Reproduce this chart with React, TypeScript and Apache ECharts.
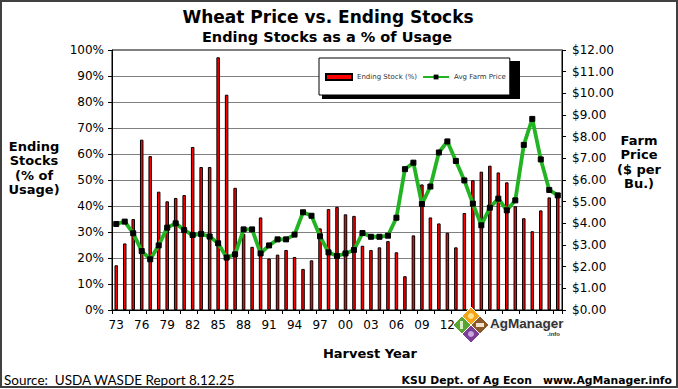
import React, { useEffect, useRef } from "react";
import * as echarts from "echarts";

const years: string[] = [
  "73","74","75","76","77","78","79","80","81","82","83","84","85","86","87","88","89","90","91","92","93","94","95","96","97","98","99",
  "00","01","02","03","04","05","06","07","08","09","10","11","12","13","14","15","16","17","18","19","20","21","22","23","24","25",
];

const endingStockPct: number[] = [
  17.2, 25.6, 35.0, 65.5, 59.2, 45.5, 41.8, 43.1, 44.2, 62.7, 55.0, 55.0, 97.2, 82.8, 47.0, 29.3, 24.3, 35.6, 19.8, 21.3, 23.1, 20.4, 15.8, 19.1, 31.4, 38.8, 39.7,
  36.8, 36.2, 24.7, 23.1, 24.1, 26.5, 22.2, 13.0, 28.7, 48.3, 35.6, 33.3, 29.7, 24.1, 37.3, 49.9, 53.2, 55.5, 52.9, 49.1, 39.9, 35.3, 30.3, 38.3, 43.3, 44.0,
];

const avgFarmPrice: number[] = [
  3.97, 4.08, 3.54, 2.72, 2.34, 2.98, 3.80, 4.00, 3.69, 3.46, 3.51, 3.39, 3.08, 2.42, 2.57, 3.72, 3.72, 2.61, 2.98, 3.26, 3.26, 3.48, 4.51, 4.35, 3.40, 2.66, 2.49,
  2.61, 2.77, 3.55, 3.38, 3.38, 3.43, 4.26, 6.50, 6.80, 4.89, 5.70, 7.27, 7.78, 6.88, 5.98, 4.91, 3.91, 4.72, 5.14, 4.60, 5.06, 7.62, 8.82, 6.95, 5.54, 5.29,
];

const seriesNames = ["Ending Stock (%)", "Avg Farm Price"];
const titleText = "Wheat Price vs. Ending Stocks";
const subtitleText = "Ending Stocks as a % of Usage";
const leftAxisTitle = "Ending\nStocks\n(% of\nUsage)";
const rightAxisTitle = "Farm\nPrice\n($ per\nBu.)";
const xAxisTitle = "Harvest Year";
const sourceText = "Source:  USDA WASDE Report 8.12.25";
const creditText = "KSU Dept. of Ag Econ   www.AgManager.info";

const FONT = "DejaVu Sans, Verdana, sans-serif";

export default function App() {
  const ref = useRef<HTMLDivElement>(null);

  useEffect(() => {
    if (!ref.current) return;
    const chart = echarts.init(ref.current, null, { renderer: "svg" });

    const diamond = (cx: number, cy: number, r: number) => [
      [cx, cy - r],
      [cx + r, cy],
      [cx, cy + r],
      [cx - r, cy],
    ];

    const LZ = 50;

    chart.setOption({
      animation: false,
      backgroundColor: "#ffffff",
      grid: {
        left: 112,
        right: 116,
        top: 50,
        bottom: 79,
        show: true,
        borderColor: "#000",
        borderWidth: 1,
        backgroundColor: "transparent",
      },
      legend: {
        left: 319,
        top: 58,
        padding: [15, 4, 14, 6],
        itemGap: 5,
        itemWidth: 26,
        itemHeight: 6,
        backgroundColor: "#ffffff",
        borderColor: "#000",
        borderWidth: 1,
        textStyle: { fontSize: 7, fontFamily: FONT, color: "#333" },
        data: [
          { name: seriesNames[0], icon: "rect" },
          { name: seriesNames[1] },
        ],
      },
      xAxis: {
        type: "category",
        data: years,
        boundaryGap: true,
        axisLine: { lineStyle: { color: "#000", width: 1 } },
        axisTick: { show: true, interval: 1, length: 4, lineStyle: { color: "#000" } },
        axisLabel: {
          interval: 2,
          color: "#000",
          fontSize: 12,
          fontFamily: FONT,
          margin: 9,
        },
        splitLine: { show: false },
      },
      yAxis: [
        {
          type: "value",
          min: 0,
          max: 100,
          interval: 10,
          position: "left",
          axisLine: { show: true, lineStyle: { color: "#000" } },
          axisTick: { show: true, length: 4, lineStyle: { color: "#000" } },
          axisLabel: {
            formatter: "{value}%",
            color: "#000",
            fontSize: 12,
            fontFamily: FONT,
            margin: 8,
          },
          splitLine: { show: true, lineStyle: { color: "#808080", width: 1 } },
        },
        {
          type: "value",
          min: 0,
          max: 12,
          interval: 1,
          position: "right",
          axisLine: { show: true, lineStyle: { color: "#000" } },
          axisTick: { show: true, length: 4, lineStyle: { color: "#000" } },
          axisLabel: {
            formatter: (v: number) => "$" + v.toFixed(2),
            color: "#000",
            fontSize: 12,
            fontFamily: FONT,
            margin: 10,
          },
          splitLine: { show: false },
        },
      ],
      series: [
        {
          name: seriesNames[0],
          type: "bar",
          yAxisIndex: 0,
          data: endingStockPct,
          barWidth: 3.5,
          itemStyle: { color: "#ff0000", borderColor: "#000", borderWidth: 1 },
          z: 2,
        },
        {
          name: seriesNames[1],
          type: "line",
          yAxisIndex: 1,
          data: avgFarmPrice,
          symbol: "rect",
          symbolSize: 5,
          showAllSymbol: true,
          lineStyle: { color: "#22b422", width: 3.8 },
          itemStyle: { color: "#000", borderColor: "#000" },
          z: 3,
        },
      ],
      graphic: [
        {
          type: "rect",
          z: 3,
          shape: { x: 322, y: 61, width: 198, height: 38 },
          style: { fill: "#000" },
        },
        {
          type: "text",
          x: 328,
          y: 17,
          style: {
            text: titleText,
            font: `bold 17px ${FONT}`,
            fill: "#000",
            textAlign: "center",
            textVerticalAlign: "middle",
          },
        },
        {
          type: "text",
          x: 327,
          y: 37,
          style: {
            text: subtitleText,
            font: `bold 14.5px ${FONT}`,
            fill: "#000",
            textAlign: "center",
            textVerticalAlign: "middle",
          },
        },
        {
          type: "text",
          x: 34,
          y: 168,
          style: {
            text: leftAxisTitle,
            font: `bold 13px ${FONT}`,
            lineHeight: 14.5,
            fill: "#000",
            textAlign: "center",
            textVerticalAlign: "middle",
          },
        },
        {
          type: "text",
          x: 639,
          y: 162,
          style: {
            text: rightAxisTitle,
            font: `bold 13px ${FONT}`,
            lineHeight: 14.5,
            fill: "#000",
            textAlign: "center",
            textVerticalAlign: "middle",
          },
        },
        {
          type: "text",
          x: 370,
          y: 353,
          style: {
            text: xAxisTitle,
            font: `bold 13px ${FONT}`,
            fill: "#000",
            textAlign: "center",
            textVerticalAlign: "middle",
          },
        },
        {
          type: "text",
          x: 4,
          y: 380,
          style: {
            text: sourceText,
            font: `13.5px Lato, "Liberation Sans Narrow", sans-serif`,
            fill: "#000",
            textAlign: "left",
            textVerticalAlign: "middle",
          },
        },
        {
          type: "text",
          x: 672,
          y: 380,
          style: {
            text: creditText,
            font: `bold 10.8px ${FONT}`,
            fill: "#000",
            textAlign: "right",
            textVerticalAlign: "middle",
          },
        },
        // AgManager logo
        { type: "rect", z: LZ, shape: { x: 489, y: 315, width: 73, height: 24 }, style: { fill: "rgba(255,255,255,0.85)" } },
        { type: "polygon", z: LZ, shape: { points: diamond(471, 316, 9) }, style: { fill: "#f2a51a", stroke: "#fff", lineWidth: 1 } },
        { type: "polygon", z: LZ, shape: { points: diamond(462, 325, 9) }, style: { fill: "#5aa532", stroke: "#fff", lineWidth: 1 } },
        { type: "polygon", z: LZ, shape: { points: diamond(480, 325, 9) }, style: { fill: "#8b5a2b", stroke: "#fff", lineWidth: 1 } },
        { type: "polygon", z: LZ, shape: { points: diamond(471, 334, 9) }, style: { fill: "#7b3f98", stroke: "#fff", lineWidth: 1 } },
        { type: "circle", z: LZ + 1, shape: { cx: 471, cy: 316, r: 3 }, style: { fill: "#fde28a" } },
        { type: "circle", z: LZ + 1, shape: { cx: 471, cy: 334, r: 3 }, style: { fill: "#c9a6dc" } },
        { type: "rect", z: LZ + 1, shape: { x: 476, y: 323, width: 8, height: 4 }, style: { fill: "#f3e3cc" } },
        { type: "rect", z: LZ + 1, shape: { x: 460, y: 321, width: 3, height: 8 }, style: { fill: "#d8efc4" } },
        {
          type: "text",
          z: LZ + 1,
          x: 490,
          y: 323,
          style: {
            text: "AgManager",
            font: `bold 13.5px "Liberation Sans", Arial, sans-serif`,
            fill: "#333",
            textAlign: "left",
            textVerticalAlign: "middle",
          },
        },
        {
          type: "text",
          z: LZ + 1,
          x: 560,
          y: 334,
          style: {
            text: ".info",
            font: `bold 6px "Liberation Sans", Arial, sans-serif`,
            fill: "#333",
            textAlign: "right",
            textVerticalAlign: "middle",
          },
        },
        {
          type: "rect",
          z: 60,
          shape: { x: 1, y: 1, width: 676, height: 386 },
          style: { fill: "none", stroke: "#404040", lineWidth: 2 },
        },
      ],
    });

    return () => chart.dispose();
  }, []);

  return (
    <div
      ref={ref}
      style={{ position: "absolute", left: 0, top: 0, width: 678, height: 389 }}
    />
  );
}
